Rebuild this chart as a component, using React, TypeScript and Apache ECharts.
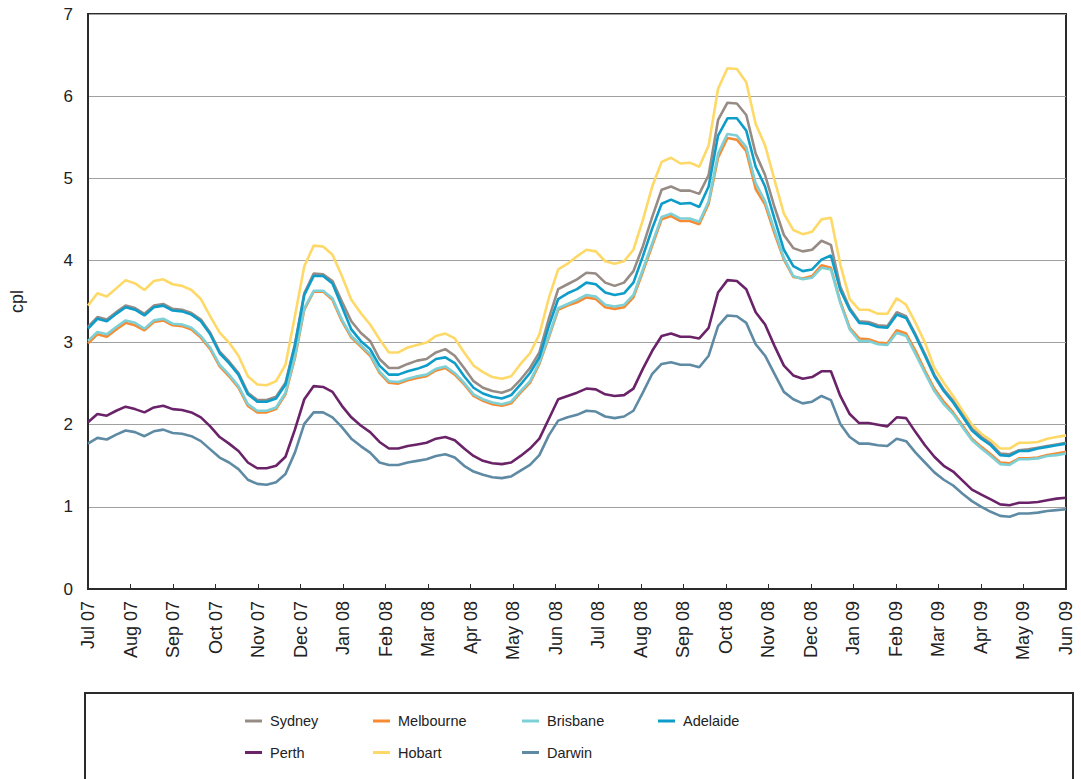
import React, { useEffect, useRef } from "react";
import * as echarts from "echarts";

const months = ["Jul 07","Aug 07","Sep 07","Oct 07","Nov 07","Dec 07","Jan 08","Feb 08","Mar 08","Apr 08","May 08","Jun 08","Jul 08","Aug 08","Sep 08","Oct 08","Nov 08","Dec 08","Jan 09","Feb 09","Mar 09","Apr 09","May 09","Jun 09"];

const sydney = [3.19,3.31,3.28,3.37,3.45,3.42,3.35,3.45,3.47,3.41,3.40,3.36,3.28,3.12,2.89,2.77,2.63,2.39,2.30,2.30,2.34,2.51,2.98,3.60,3.84,3.83,3.75,
3.50,3.26,3.12,3.02,2.80,2.69,2.69,2.74,2.78,2.80,2.88,2.92,2.84,2.69,2.53,2.45,2.41,2.39,2.43,2.55,2.69,2.88,3.29,3.65,3.71,
3.77,3.85,3.84,3.73,3.69,3.73,3.87,4.17,4.53,4.86,4.90,4.85,4.85,4.81,5.04,5.71,5.92,5.91,5.77,5.30,5.04,4.65,4.31,4.15,4.11,4.13,
4.24,4.19,3.68,3.42,3.26,3.25,3.21,3.20,3.37,3.32,3.10,2.86,2.61,2.43,2.29,2.12,1.95,1.85,1.77,1.65,1.64,1.69,1.70,1.72,1.74,1.76,1.78];

const melbourne = [2.99,3.10,3.07,3.16,3.24,3.21,3.15,3.25,3.27,3.21,3.20,3.16,3.06,2.92,2.71,2.59,2.45,2.23,2.15,2.15,2.19,2.37,2.81,3.40,3.62,3.62,3.52,
3.26,3.06,2.95,2.84,2.63,2.51,2.50,2.54,2.57,2.59,2.66,2.69,2.61,2.49,2.35,2.29,2.25,2.23,2.26,2.39,2.51,2.74,3.06,3.40,3.45,
3.49,3.55,3.53,3.43,3.41,3.43,3.55,3.86,4.18,4.50,4.54,4.48,4.48,4.44,4.69,5.25,5.49,5.47,5.33,4.87,4.68,4.33,4.01,3.80,3.78,3.81,
3.94,3.91,3.50,3.18,3.05,3.04,3.00,2.99,3.15,3.11,2.90,2.66,2.44,2.28,2.15,1.99,1.83,1.73,1.64,1.54,1.53,1.59,1.59,1.60,1.63,1.65,1.67];

const brisbane = [3.02,3.13,3.10,3.19,3.27,3.24,3.17,3.27,3.29,3.23,3.22,3.18,3.08,2.94,2.73,2.61,2.47,2.25,2.17,2.17,2.21,2.39,2.83,3.42,3.63,3.63,3.54,
3.28,3.08,2.97,2.86,2.65,2.53,2.52,2.56,2.59,2.61,2.68,2.71,2.63,2.51,2.37,2.31,2.27,2.25,2.28,2.41,2.53,2.76,3.08,3.42,3.47,
3.52,3.58,3.56,3.46,3.44,3.46,3.58,3.89,4.21,4.53,4.57,4.51,4.51,4.47,4.72,5.30,5.54,5.52,5.38,4.94,4.72,4.37,4.03,3.81,3.77,3.79,
3.91,3.89,3.48,3.16,3.02,3.02,2.98,2.97,3.12,3.08,2.86,2.63,2.41,2.25,2.13,1.97,1.81,1.71,1.62,1.52,1.51,1.58,1.58,1.59,1.62,1.63,1.65];

const adelaide = [3.17,3.29,3.26,3.35,3.43,3.40,3.33,3.43,3.45,3.39,3.38,3.34,3.26,3.10,2.87,2.75,2.61,2.37,2.28,2.28,2.32,2.49,2.96,3.58,3.81,3.81,3.72,
3.44,3.16,3.02,2.92,2.72,2.61,2.61,2.65,2.68,2.72,2.80,2.82,2.75,2.59,2.45,2.38,2.34,2.32,2.36,2.49,2.63,2.82,3.20,3.53,3.60,
3.65,3.73,3.71,3.61,3.58,3.60,3.73,4.05,4.39,4.69,4.74,4.69,4.70,4.65,4.90,5.52,5.73,5.73,5.58,5.14,4.90,4.51,4.13,3.93,3.87,3.89,
4.01,4.06,3.64,3.40,3.24,3.23,3.19,3.18,3.34,3.30,3.08,2.84,2.59,2.41,2.27,2.10,1.93,1.83,1.75,1.63,1.62,1.68,1.68,1.71,1.73,1.75,1.77];

const perth = [2.03,2.13,2.11,2.17,2.22,2.19,2.15,2.21,2.23,2.19,2.18,2.15,2.09,1.98,1.85,1.77,1.68,1.54,1.47,1.47,1.50,1.61,1.94,2.31,2.47,2.46,2.40,
2.23,2.09,1.99,1.91,1.79,1.71,1.71,1.74,1.76,1.78,1.83,1.85,1.81,1.71,1.62,1.56,1.53,1.52,1.54,1.62,1.71,1.83,2.07,2.31,2.35,
2.39,2.44,2.43,2.37,2.35,2.36,2.44,2.68,2.90,3.08,3.11,3.07,3.07,3.05,3.18,3.61,3.76,3.75,3.65,3.37,3.22,2.96,2.72,2.60,2.56,2.58,
2.65,2.65,2.35,2.13,2.02,2.02,2.00,1.98,2.09,2.08,1.91,1.75,1.61,1.50,1.43,1.32,1.21,1.15,1.09,1.03,1.02,1.05,1.05,1.06,1.08,1.10,1.11];

const hobart = [3.45,3.60,3.56,3.66,3.76,3.72,3.64,3.75,3.77,3.71,3.69,3.64,3.53,3.32,3.12,3.00,2.84,2.59,2.49,2.48,2.53,2.73,3.32,3.93,4.18,4.17,4.07,
3.81,3.52,3.36,3.22,3.04,2.88,2.88,2.94,2.97,3.00,3.08,3.11,3.05,2.88,2.72,2.64,2.58,2.56,2.59,2.74,2.87,3.10,3.54,3.89,3.96,
4.05,4.13,4.11,3.99,3.96,3.99,4.13,4.49,4.90,5.20,5.25,5.18,5.19,5.14,5.40,6.09,6.34,6.33,6.17,5.66,5.40,4.98,4.57,4.37,4.32,4.35,
4.50,4.52,3.95,3.53,3.40,3.40,3.35,3.35,3.54,3.46,3.24,3.00,2.69,2.51,2.35,2.17,2.00,1.89,1.81,1.71,1.71,1.78,1.78,1.79,1.83,1.85,1.87];

const darwin = [1.77,1.84,1.82,1.88,1.93,1.91,1.86,1.92,1.94,1.90,1.89,1.86,1.80,1.70,1.60,1.54,1.46,1.33,1.28,1.27,1.30,1.40,1.66,2.01,2.15,2.15,2.09,
1.97,1.83,1.74,1.66,1.54,1.51,1.51,1.54,1.56,1.58,1.62,1.64,1.60,1.50,1.43,1.39,1.36,1.35,1.37,1.44,1.51,1.63,1.87,2.05,2.09,
2.12,2.17,2.16,2.10,2.08,2.10,2.17,2.39,2.62,2.74,2.76,2.73,2.73,2.70,2.84,3.20,3.33,3.32,3.24,2.98,2.84,2.62,2.40,2.31,2.26,2.28,
2.35,2.30,2.01,1.85,1.77,1.77,1.75,1.74,1.83,1.80,1.66,1.54,1.42,1.33,1.26,1.16,1.07,1.00,0.94,0.89,0.88,0.92,0.92,0.93,0.95,0.96,0.97];

const seriesDefs = [
  { name: "Sydney", data: sydney, color: "#978c85" },
  { name: "Melbourne", data: melbourne, color: "#f68b33" },
  { name: "Brisbane", data: brisbane, color: "#7dd0d6" },
  { name: "Adelaide", data: adelaide, color: "#0e9cc9" },
  { name: "Perth", data: perth, color: "#6a2368" },
  { name: "Hobart", data: hobart, color: "#fed967" },
  { name: "Darwin", data: darwin, color: "#5e8aa4" },
];

const FONT = "'Liberation Sans', Arial, sans-serif";

export default function App() {
  const ref = useRef<HTMLDivElement>(null);
  useEffect(() => {
    document.body.style.margin = "0";
    if (!ref.current) return;
    const chart = echarts.init(ref.current, null, { renderer: "svg" });
    const lastIdx = months.length - 1;
    const toPairs = (arr: number[]) => arr.map((v, i) => [(i * lastIdx) / (arr.length - 1), v]);
    const drawOrder = ["Hobart", "Sydney", "Melbourne", "Brisbane", "Adelaide", "Perth", "Darwin"];
    const series = drawOrder.map((n) => {
      const d = seriesDefs.find((s) => s.name === n)!;
      return {
        name: d.name,
        type: "line",
        data: toPairs(d.data),
        showSymbol: false,
        symbol: "none",
        lineStyle: { color: d.color, width: 2.6 },
        itemStyle: { color: d.color },
        z: 3,
      };
    });
    const legendCols = [["Sydney", "Perth"], ["Melbourne", "Hobart"], ["Brisbane", "Darwin"], ["Adelaide"]];
    const legendLefts = [240, 368, 517, 653];
    const legends = legendCols.map((cols, i) => ({
      data: cols,
      left: legendLefts[i],
      top: 708,
      orient: "vertical",
      icon: "rect",
      itemWidth: 17,
      itemHeight: 3,
      itemGap: 15.5,
      selectedMode: false,
      textStyle: { fontFamily: FONT, fontSize: 14.5, color: "#222", padding: [0, 0, 0, 3], lineHeight: 16 },
    }));
    chart.setOption({
      animation: false,
      backgroundColor: "#fff",
      grid: { left: 87, right: 15, top: 14, bottom: 190, show: true, borderColor: "#2b2b2b", borderWidth: 2, containLabel: false },
      legend: legends,
      graphic: [
        {
          type: "rect",
          shape: { x: 85, y: 693, width: 988, height: 120 },
          style: { fill: "none", stroke: "#2b2b2b", lineWidth: 2 },
          z: 0,
        },
      ],
      xAxis: {
        type: "value",
        min: 0,
        max: lastIdx,
        interval: 1,
        axisLine: { show: true, lineStyle: { color: "#2b2b2b", width: 2 } },
        axisTick: { show: true, inside: true, length: 5, lineStyle: { color: "#2b2b2b" } },
        splitLine: { show: false },
        axisLabel: {
          rotate: 90,
          margin: 12,
          fontFamily: FONT,
          fontSize: 18,
          color: "#222",
          formatter: (v: number) => months[Math.round(v)] ?? "",
        },
      },
      yAxis: {
        type: "value",
        min: 0,
        max: 7,
        interval: 1,
        name: "cpl",
        nameLocation: "middle",
        nameGap: 62,
        nameTextStyle: { fontFamily: FONT, fontSize: 18, color: "#222" },
        axisLine: { show: true, lineStyle: { color: "#2b2b2b", width: 2 } },
        axisTick: { show: false },
        splitLine: { show: true, lineStyle: { color: "#a0a0a0", width: 1 } },
        axisLabel: { margin: 15, fontFamily: FONT, fontSize: 17, color: "#222" },
      },
      series,
    });
    return () => chart.dispose();
  }, []);
  return <div ref={ref} style={{ width: 1081, height: 779 }} />;
}
